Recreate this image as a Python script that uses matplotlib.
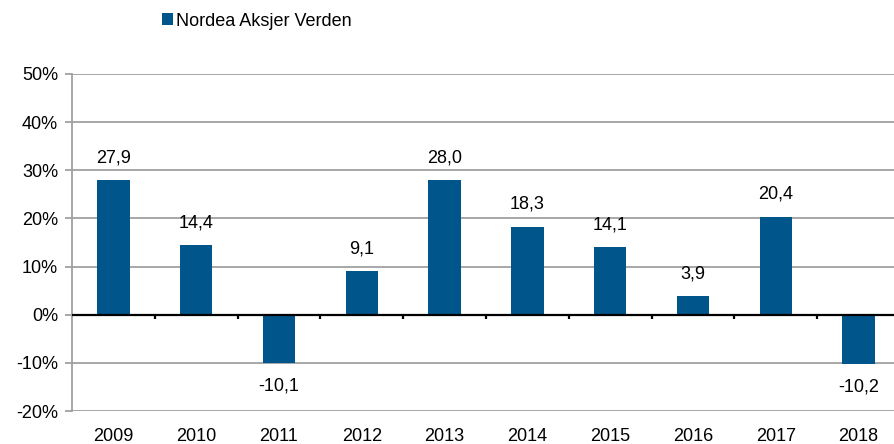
import matplotlib
matplotlib.use("Agg")
import matplotlib.pyplot as plt
import numpy as np

years = ["2009", "2010", "2011", "2012", "2013", "2014", "2015", "2016", "2017", "2018"]
returns = [27.9, 14.4, -10.1, 9.1, 28.0, 18.3, 14.1, 3.9, 20.4, -10.2]
series_name = "Nordea Aksjer Verden"
yticks = [-20, -10, 0, 10, 20, 30, 40, 50]

plt.rcParams['font.family'] = ['Liberation Sans', 'DejaVu Sans']
bar_color = "#00558A"
grid_color = "#A0A0A0"
fs = 13

fig = plt.figure(figsize=(8.95, 4.44), dpi=100)
ax = fig.add_axes([72/895, 33/444, 828/895, 337/444])

x = np.arange(len(years))
bars = ax.bar(x, returns, width=0.39, color=bar_color, zorder=3, label=series_name)

ax.set_xlim(-0.5, len(years) - 0.5)
ax.set_ylim(-20, 50)
ax.set_yticks(yticks)
ax.set_yticklabels([f"{t}%" for t in yticks], fontsize=fs)
for t in yticks:
    if t != 0:
        ax.axhline(t, color=grid_color, lw=1.3, zorder=1)
ax.axhline(0, color="black", lw=1.6, zorder=4)

# category boundary ticks on zero line
bounds = np.arange(len(years) + 1) - 0.5
ax.vlines(bounds[1:-1], 0, -0.9, color="black", lw=1.6, zorder=4)

for s in ["top", "right", "bottom"]:
    ax.spines[s].set_visible(False)
ax.spines["left"].set_color(grid_color)
ax.spines["left"].set_linewidth(1.3)
ax.tick_params(axis="y", colors=grid_color, length=5, width=1.3, labelcolor="black", pad=5)
ax.set_xticks(x)
ax.set_xticklabels(years, fontsize=fs)
ax.tick_params(axis="x", length=0, pad=12)

for xi, v in zip(x, returns):
    lab = f"{v:.1f}".replace(".", ",")
    if v >= 0:
        ax.text(xi, v + 4.6, lab, ha="center", va="center", fontsize=fs)
    else:
        ax.text(xi, v - 4.8, lab, ha="center", va="center", fontsize=fs)

fig.legend(handles=[bars], labels=[series_name], loc="center left",
           bbox_to_anchor=(146/895, 1 - 21/444), frameon=False, fontsize=fs,
           handlelength=0.6, handleheight=0.6, handletextpad=0.15)

fig.savefig("out.png", dpi=100)
